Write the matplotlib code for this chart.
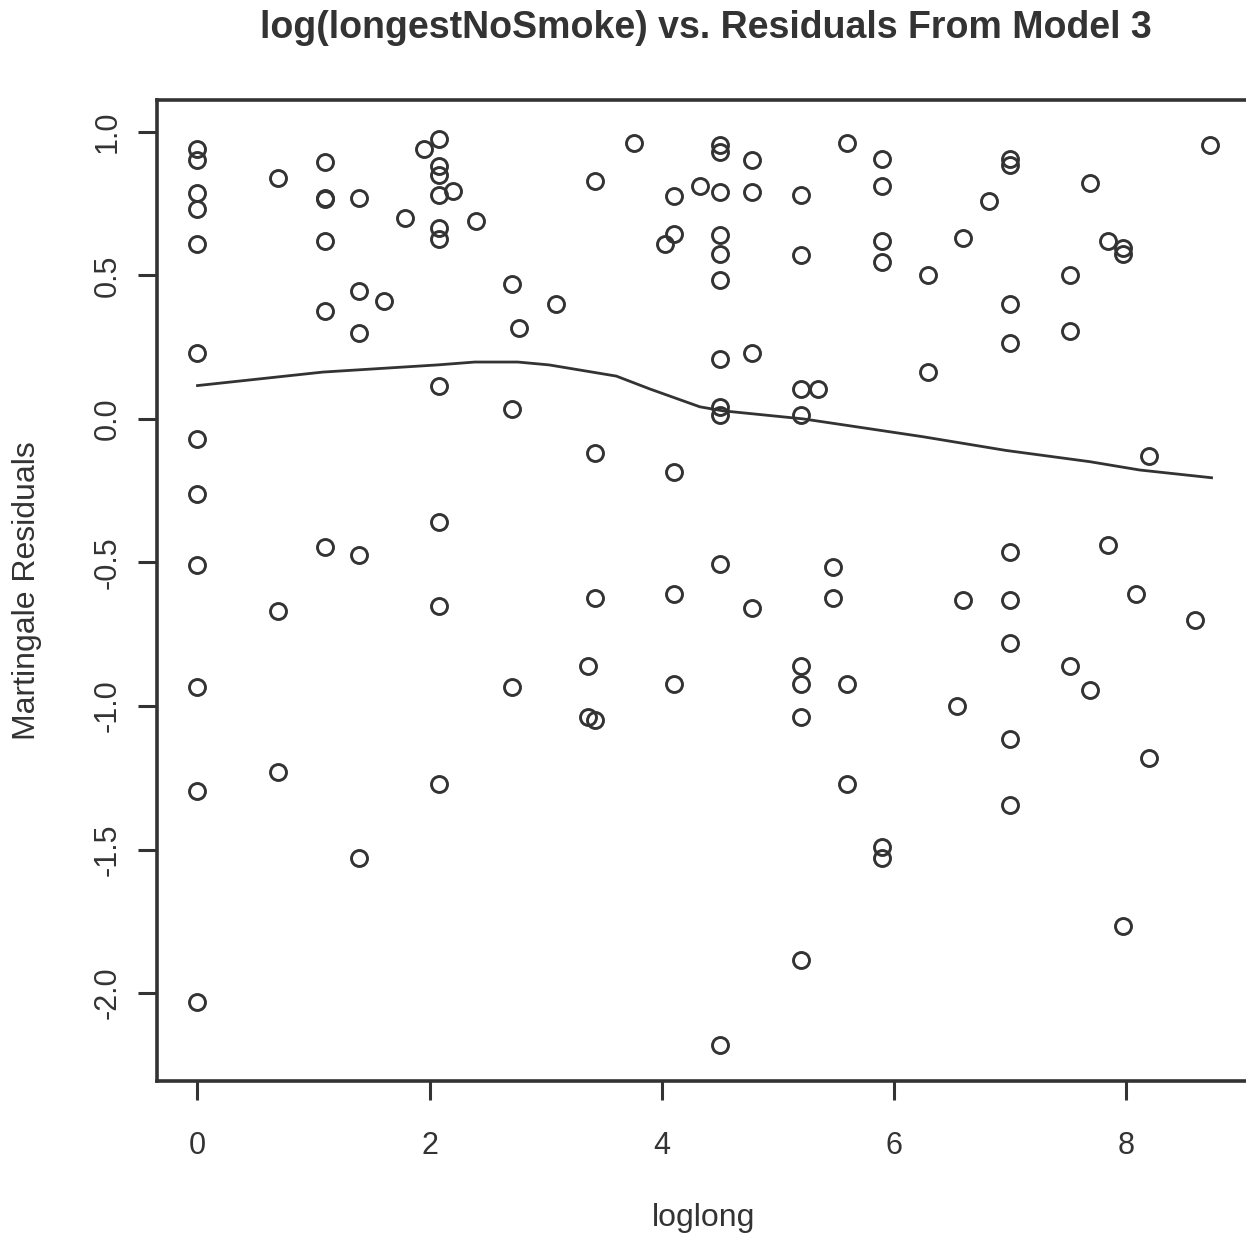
import matplotlib
matplotlib.use("Agg")
import matplotlib.pyplot as plt

plt.rcParams['font.family'] = ['Liberation Sans', 'DejaVu Sans']

# log(longestNoSmoke) values and Martingale residuals from model 3
loglong = [
    0, 0, 0, 0, 0, 0, 0, 0, 0, 0, 0, 0,
    0.69, 0.69, 0.69,
    1.10, 1.10, 1.10, 1.10, 1.10, 1.10,
    1.39, 1.39, 1.39, 1.39, 1.39,
    1.61, 1.79, 1.95,
    2.08, 2.08, 2.08, 2.08, 2.08, 2.08, 2.08, 2.08, 2.08, 2.08,
    2.20, 2.40,
    2.71, 2.71, 2.71, 2.77, 3.09,
    3.37, 3.37,
    3.43, 3.43, 3.43, 3.43,
    3.76, 4.03,
    4.11, 4.11, 4.11, 4.11, 4.11,
    4.33,
    4.50, 4.50, 4.50, 4.50, 4.50, 4.50, 4.50, 4.50, 4.50, 4.50, 4.50,
    4.78, 4.78, 4.78, 4.78,
    5.20, 5.20, 5.20, 5.20, 5.20, 5.20, 5.20, 5.20,
    5.35, 5.48, 5.48,
    5.60, 5.60, 5.60,
    5.90, 5.90, 5.90, 5.90, 5.90, 5.90,
    6.30, 6.30, 6.55, 6.60, 6.60, 6.82,
    7.00, 7.00, 7.00, 7.00, 7.00, 7.00, 7.00, 7.00, 7.00,
    7.52, 7.52, 7.52,
    7.69, 7.69,
    7.85, 7.85,
    7.98, 7.98, 7.98,
    8.09, 8.20, 8.20, 8.60, 8.73,
]
residuals = [
    0.94, 0.90, 0.785, 0.73, 0.61, 0.23, -0.07, -0.26, -0.51, -0.935, -1.295, -2.03,
    0.84, -0.67, -1.23,
    0.895, 0.77, 0.765, 0.62, 0.375, -0.445,
    0.77, 0.445, 0.30, -0.475, -1.53,
    0.41, 0.70, 0.94,
    0.975, 0.88, 0.85, 0.78, 0.665, 0.625, 0.115, -0.36, -0.65, -1.27,
    0.795, 0.69,
    0.47, 0.035, -0.935, 0.315, 0.40,
    -0.86, -1.04,
    0.83, -0.12, -0.625, -1.05,
    0.96, 0.61,
    0.775, 0.645, -0.185, -0.61, -0.925,
    0.81,
    0.955, 0.93, 0.79, 0.64, 0.575, 0.485, 0.21, 0.04, 0.015, -0.505, -2.18,
    0.90, 0.79, 0.23, -0.66,
    0.78, 0.57, 0.105, 0.015, -0.86, -0.925, -1.04, -1.885,
    0.105, -0.515, -0.625,
    0.96, -0.925, -1.27,
    0.905, 0.81, 0.62, 0.545, -1.49, -1.53,
    0.50, 0.165, -1.00, 0.63, -0.63, 0.76,
    0.905, 0.885, 0.40, 0.265, -0.465, -0.63, -0.78, -1.115, -1.345,
    0.50, 0.305, -0.86,
    0.82, -0.945,
    0.62, -0.44,
    0.595, 0.575, -1.765,
    -0.61, -0.13, -1.18, -0.70, 0.955,
]

# lowess smooth of the residuals against loglong
smooth_x = [0, 1.08, 2.07, 2.39, 2.76, 3.03, 3.61, 3.90, 4.33, 4.53,
            5.22, 5.62, 6.25, 6.40, 6.97, 7.69, 8.12, 8.74]
smooth_y = [0.116, 0.163, 0.188, 0.198, 0.198, 0.188, 0.149, 0.104, 0.042, 0.028,
            0.0, -0.024, -0.062, -0.072, -0.110, -0.149, -0.178, -0.205]

x_ticks = [0, 2, 4, 6, 8]
y_ticks = [1.0, 0.5, 0.0, -0.5, -1.0, -1.5, -2.0]

ink = '#333333'
W, H = 1246, 1239
fig = plt.figure(figsize=(W / 100, H / 100), dpi=100)
left, right, top, bottom = 157, 1251, 100, 1081
ax = fig.add_axes([left / W, 1 - bottom / H, (right - left) / W, (bottom - top) / H])

ax.plot(loglong, residuals, linestyle='none', marker='o', markersize=11.5,
        markerfacecolor='none', markeredgecolor=ink, markeredgewidth=2.1,
        clip_on=False)
ax.plot(smooth_x, smooth_y, color=ink, linewidth=2.0)

ax.set_xlim(-0.349, 9.08)
ax.set_ylim(-2.306, 1.1106)

ax.set_xticks(x_ticks)
ax.set_xticklabels([str(t) for t in x_ticks])
ax.set_yticks(y_ticks)
ax.set_yticklabels([f"{t:.1f}" for t in y_ticks], rotation=90, va='center')

for side in ax.spines.values():
    side.set_linewidth(2.6)
    side.set_color(ink)
ax.tick_params(axis='both', length=14, width=2.2, color=ink, labelsize=22,
               labelcolor=ink)
ax.tick_params(axis='x', pad=22)
ax.tick_params(axis='y', pad=11)

ax.set_xlabel('loglong', fontsize=23, color=ink, va='center')
ax.xaxis.set_label_coords(0.5, (bottom - 1218) / (bottom - top))
ax.set_ylabel('Martingale Residuals', fontsize=23, color=ink, va='center')
ax.yaxis.set_label_coords((27 - left) / (right - left), 0.5)
fig.text(706 / W, 1 - 28 / H, 'log(longestNoSmoke) vs. Residuals From Model 3',
         ha='center', va='center', fontsize=27, fontweight='bold', color=ink)

fig.savefig('out.png', dpi=100)
